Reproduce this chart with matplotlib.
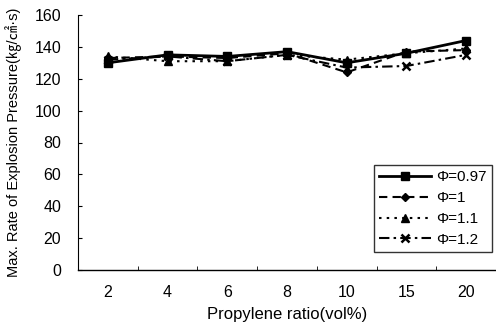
import matplotlib
matplotlib.use("Agg")
import matplotlib.pyplot as plt
import numpy as np

plt.rcParams['font.family'] = ['Liberation Sans', 'DejaVu Sans']

categories = ["2", "4", "6", "8", "10", "15", "20"]
phi_097 = [130, 135, 134, 137, 130, 136, 144]
phi_1 = [133, 134, 133, 136, 124, 137, 138]
phi_11 = [134, 131, 131, 135, 132, 136, 139]
phi_12 = [132, 134, 131, 135, 127, 128, 135]
yticks = [0, 20, 40, 60, 80, 100, 120, 140, 160]

fig = plt.figure(figsize=(4.96, 3.25), dpi=100)
ax = fig.add_axes([78/496, 55/325, 418/496, 255/325])

x = np.arange(len(categories))
ax.plot(x, phi_097, color='black', lw=2.0, ls='-', marker='s', ms=5.5, label='Φ=0.97')
ax.plot(x, phi_1, color='black', lw=1.5, ls=(0, (4, 2.5)), marker='D', ms=4.5, label='Φ=1')
ax.plot(x, phi_11, color='black', lw=1.5, ls=(0, (1.2, 2.5)), marker='^', ms=5.5, label='Φ=1.1')
ax.plot(x, phi_12, color='black', lw=1.5, ls=(0, (5, 2, 1.2, 2)), marker='x', ms=5.5, mew=1.8, label='Φ=1.2')

ax.set_xlim(-0.5, len(categories) - 0.5)
ax.set_ylim(0, 160)
ax.set_yticks(yticks)
ax.set_xticks(x)
ax.set_xticklabels(categories)
ax.set_xticks(np.arange(-0.5, len(categories), 1.0), minor=True)
ax.tick_params(axis='x', which='major', length=0, pad=11, labelsize=11.5)
ax.tick_params(axis='x', which='minor', direction='in', length=3)
ax.tick_params(axis='y', direction='in', length=3, labelsize=11.5, pad=12)

ax.spines['top'].set_visible(False)
ax.spines['right'].set_visible(False)
ax.spines['left'].set_linewidth(0.8)
ax.spines['bottom'].set_linewidth(1.0)

ax.set_xlabel('Propylene ratio(vol%)', fontsize=12, labelpad=5)
ax.set_ylabel('Max. Rate of Explosion Pressure(㎏/㎠·s)', fontsize=10.5,
              family=['Liberation Sans', 'Noto Sans CJK KR', 'DejaVu Sans'])
ax.yaxis.set_label_coords(-0.135, 0.5)

leg = ax.legend(loc='lower right', bbox_to_anchor=(0.99, 0.07), fontsize=11, frameon=True,
                fancybox=False, edgecolor='black', handlelength=3.4, handletextpad=0.3,
                borderpad=0.35, borderaxespad=0.0, labelspacing=0.45)
leg.get_frame().set_linewidth(1.0)

fig.savefig('out.png', dpi=100)
